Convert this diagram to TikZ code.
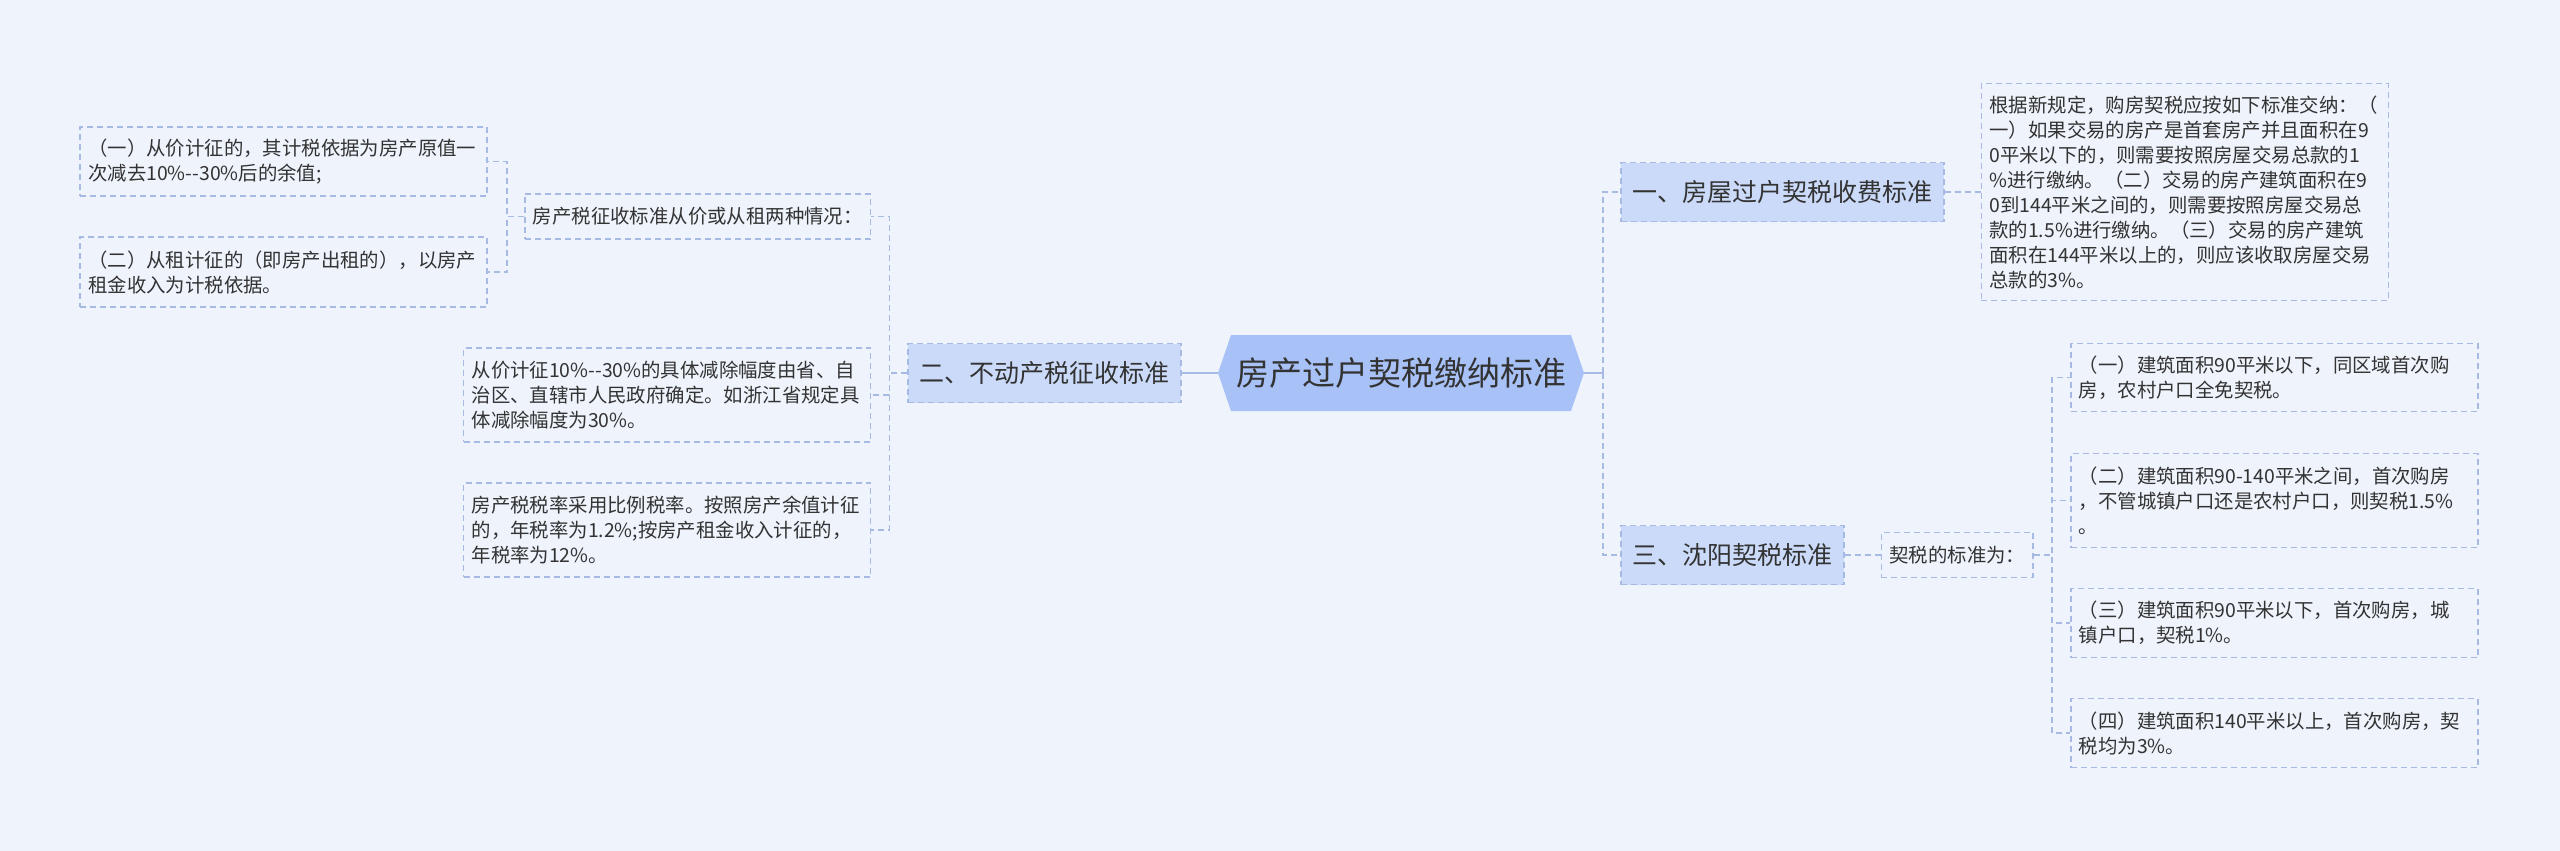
\documentclass[tikz,border=0pt]{standalone}
\usepackage{fontspec}
\newfontfamily\cjk{Noto Sans CJK SC}
\usepackage{tikz}
\usetikzlibrary{positioning,backgrounds}
\definecolor{pagebg}{HTML}{EEF3FC}
\definecolor{rootfill}{HTML}{A8C2F7}
\definecolor{topicfill}{HTML}{CADAF8}
\definecolor{linkcol}{HTML}{A7BAE3}
\definecolor{inkcol}{HTML}{333333}

\begin{document}
\begin{tikzpicture}[x=0.5pt,y=-0.5pt,node distance=18pt,
 rootbox/.style={font=\cjk\fontsize{16.5pt}{20pt}\selectfont,text=inkcol,minimum width=170pt,minimum height=38pt,inner sep=0pt,outer xsep=6.5pt,outer ysep=0pt},
 topic/.style={draw=linkcol,fill=topicfill,dash pattern=on 3pt off 2pt,line width=0.8pt,font=\cjk\fontsize{12.5pt}{15pt}\selectfont,text=inkcol,inner xsep=5.75pt,inner ysep=0pt,minimum height=29.5pt},
 leaf/.style={draw=linkcol,dash pattern=on 3pt off 2pt,line width=0.8pt,font=\cjk\fontsize{9.7pt}{12.5pt}\selectfont,text=inkcol,inner xsep=4pt,inner ysep=2pt,minimum height=22.5pt},
 note/.style={leaf,text width=195.5pt,align=left},
 link/.style={draw=linkcol,dash pattern=on 3pt off 2pt,line width=0.8pt}]
\useasboundingbox (0,0) rectangle (2560,851);
\node[rootbox] (root) at (1401,373) {房产过户契税缴纳标准};
\node[topic,left=of root] (property) {二、不动产税征收标准};
\node[topic,right=of root,yshift=90.5pt] (transfer) {一、房屋过户契税收费标准};
\node[topic,right=of root,yshift=-91pt] (shenyang) {三、沈阳契税标准};
% left branch
\node[leaf,left=of property,yshift=78.25pt] (twoways) {房产税征收标准从价或从租两种情况：};
\node[note,left=of property,yshift=-11pt,minimum height=47pt] (reduction) {从价计征10\%-{}-30\%的具体减除幅度由省、自\\治区、直辖市人民政府确定。如浙江省规定具\\体减除幅度为30\%。};
\node[note,left=of property,yshift=-78.5pt,minimum height=47pt] (taxrate) {房产税税率采用比例税率。按照房产余值计征\\的，年税率为1.2\%;按房产租金收入计征的，\\年税率为12\%。};
\node[note,left=of twoways,yshift=27.5pt,minimum height=34.5pt] (byvalue) {（一）从价计征的，其计税依据为房产原值一\\次减去10\%-{}-30\%后的余值;};
\node[note,left=of twoways,yshift=-27.75pt,minimum height=35pt] (byrent) {（二）从租计征的（即房产出租的），以房产\\租金收入为计税依据。};
% right branch
\node[note,right=of transfer,minimum height=108.5pt] (newrule) {根据新规定，购房契税应按如下标准交纳：（\\一）如果交易的房产是首套房产并且面积在9\\0平米以下的，则需要按照房屋交易总款的1\\\%进行缴纳。（二）交易的房产建筑面积在9\\0到144平米之间的，则需要按照房屋交易总\\款的1.5\%进行缴纳。（三）交易的房产建筑\\面积在144平米以上的，则应该收取房屋交易\\总款的3\%。};
\node[leaf,right=of shenyang] (standard) {契税的标准为：};
\node[note,right=of standard,yshift=88.75pt,minimum height=34pt] (tierone) {（一）建筑面积90平米以下，同区域首次购\\房，农村户口全免契税。};
\node[note,right=of standard,yshift=27.25pt,minimum height=47pt] (tiertwo) {（二）建筑面积90-140平米之间，首次购房\\，不管城镇户口还是农村户口，则契税1.5\%\\。};
\node[note,right=of standard,yshift=-34pt,minimum height=34.5pt] (tierthree) {（三）建筑面积90平米以下，首次购房，城\\镇户口，契税1\%。};
\node[note,right=of standard,yshift=-89pt,minimum height=34.5pt] (tierfour) {（四）建筑面积140平米以上，首次购房，契\\税均为3\%。};
% connectors
\draw[link,solid] (property.east) -- (root.west);
\draw[link,solid] (root.east) -- ++(9.5pt,0) coordinate (hub);
\draw[link] (hub) |- (transfer.west);
\draw[link] (hub) |- (shenyang.west);
\draw[link] (transfer.east) -- (newrule.west);
\draw[link] (shenyang.east) -- (standard.west);
\draw[link] (standard.east) -- ++(9pt,0) |- (tierone.west);
\draw[link] (standard.east) -- ++(9pt,0) |- (tiertwo.west);
\draw[link] (standard.east) -- ++(9pt,0) |- (tierthree.west);
\draw[link] (standard.east) -- ++(9pt,0) |- (tierfour.west);
\draw[link] (property.west) -- ++(-9pt,0) |- (twoways.east);
\draw[link] (property.west) -- ++(-9pt,0) |- (reduction.east);
\draw[link] (property.west) -- ++(-9pt,0) |- (taxrate.east);
\draw[link] (twoways.west) -- ++(-8.5pt,0) |- (byvalue.east);
\draw[link] (twoways.west) -- ++(-8.5pt,0) |- (byrent.east);
\begin{scope}[on background layer]
\fill[pagebg] (0,0) rectangle (2560,851);
\fill[rootfill] ([xshift=6.5pt]root.north west) -- ([xshift=-6.5pt]root.north east) -- (root.east) -- ([xshift=-6.5pt]root.south east) -- ([xshift=6.5pt]root.south west) -- (root.west) -- cycle;
\end{scope}
\end{tikzpicture}
\end{document}
